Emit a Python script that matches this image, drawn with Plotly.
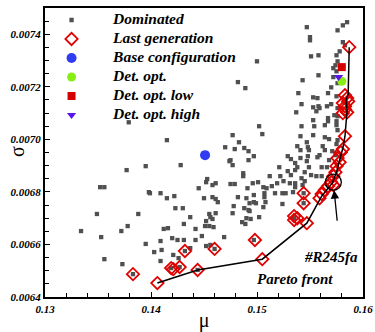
import plotly.graph_objects as go

# ---------------- data ----------------
dom_mu = [
    0.1379, 0.1395, 0.1377, 0.1352, 0.1356, 0.1398, 0.1349, 0.1388, 0.1378, 0.1334,
    0.1372, 0.1353, 0.1395, 0.1356, 0.1373, 0.1383,
    0.1482, 0.1489, 0.1500, 0.1502, 0.1415, 0.1477, 0.1483, 0.1470, 0.1479, 0.1488,
    0.1492, 0.1497, 0.1474, 0.1475, 0.1477, 0.1492, 0.1428, 0.1453, 0.1452, 0.1458,
    0.1461, 0.1475, 0.1479, 0.1487, 0.1487, 0.1496, 0.1501, 0.1491, 0.1445, 0.1399,
    0.1409, 0.1415, 0.1422, 0.1450, 0.1458, 0.1461, 0.1463, 0.1482, 0.1490, 0.1493,
    0.1499, 0.1478, 0.1488, 0.1492, 0.1493, 0.1423, 0.1430, 0.1477, 0.1455, 0.1456,
    0.1458, 0.1437, 0.1502, 0.1490, 0.1494, 0.1452, 0.1486, 0.1489, 0.1431, 0.1451,
    0.1455, 0.1459, 0.1412, 0.1416, 0.1442, 0.1448, 0.1469, 0.1409, 0.1420, 0.1425,
    0.1431, 0.1442, 0.1452, 0.1456, 0.1403, 0.1410, 0.1421, 0.1426, 0.1409, 0.1437,
    0.1461, 0.1432, 0.1460, 0.1497, 0.1419, 0.1427, 0.1444, 0.1544, 0.1544, 0.1535,
    0.1585, 0.1581, 0.1576, 0.1547, 0.1550, 0.1550, 0.1551, 0.1558, 0.1575, 0.1578,
    0.1581, 0.1583, 0.1574, 0.1576, 0.1572, 0.1558, 0.1575, 0.1543, 0.1572, 0.1570,
    0.1576, 0.1539, 0.1567, 0.1553, 0.1557, 0.1575, 0.1542, 0.1558, 0.1553, 0.1559,
    0.1556, 0.1566, 0.1570, 0.1537, 0.1576, 0.1573, 0.1567, 0.1567, 0.1576, 0.1553,
    0.1575, 0.1564, 0.1542, 0.1554, 0.1505, 0.1576, 0.1541, 0.1553, 0.1564, 0.1568,
    0.1576, 0.1575, 0.1547, 0.1538, 0.1548, 0.1549, 0.1562, 0.1564, 0.1541, 0.1529,
    0.1548, 0.1559, 0.1571, 0.1574, 0.1532, 0.1541, 0.1568, 0.1536, 0.1538, 0.1536,
    0.1549, 0.1545, 0.1561, 0.1566, 0.1521, 0.1529, 0.1512, 0.1522, 0.1532, 0.1525,
    0.1531, 0.1542, 0.1545, 0.1551, 0.1561, 0.1519, 0.1536, 0.1543, 0.1507, 0.1507,
    0.1517, 0.1524, 0.1527, 0.1536, 0.1534, 0.1506, 0.1509, 0.1514, 0.1497, 0.1497,
    0.1508, 0.1524, 0.1506, 0.1547, 0.1557, 0.1575, 0.1556,
]
dom_sigma = [
    0.007065, 0.006898, 0.006883, 0.006818, 0.006818, 0.006799, 0.006716, 0.006716, 0.006670, 0.006651,
    0.006651, 0.006628, 0.006602, 0.006544, 0.006525, 0.006487,
    0.007218, 0.007195, 0.007297, 0.007050, 0.006997, 0.007016, 0.006989, 0.006970, 0.006963, 0.006967,
    0.006955, 0.006936, 0.006917, 0.006921, 0.006902, 0.006921, 0.006902, 0.006849, 0.006837, 0.006826,
    0.006833, 0.006830, 0.006830, 0.006871, 0.006860, 0.006833, 0.006837, 0.006814, 0.006814, 0.006795,
    0.006795, 0.006776, 0.006784, 0.006776, 0.006780, 0.006773, 0.006761, 0.006780, 0.006776, 0.006757,
    0.006757, 0.006746, 0.006738, 0.006731, 0.006727, 0.006738, 0.006738, 0.006719, 0.006716, 0.006704,
    0.006697, 0.006704, 0.006704, 0.006700, 0.006697, 0.006689, 0.006685, 0.006678, 0.006678, 0.006670,
    0.006670, 0.006666, 0.006659, 0.006662, 0.006659, 0.006632, 0.006628, 0.006613, 0.006624, 0.006617,
    0.006617, 0.006617, 0.006594, 0.006598, 0.006571, 0.006579, 0.006560, 0.006548, 0.006537, 0.006586,
    0.006719, 0.006575, 0.006583, 0.006617, 0.006510, 0.006514, 0.006503, 0.006795, 0.006757, 0.006700,
    0.007446, 0.007434, 0.007415, 0.007427, 0.007389, 0.007377, 0.007316, 0.007320, 0.007320, 0.007335,
    0.007370, 0.007358, 0.007282, 0.007297, 0.007271, 0.007244, 0.007259, 0.007225, 0.007237, 0.007198,
    0.007214, 0.007176, 0.007176, 0.007160, 0.007157, 0.007164, 0.007134, 0.007126, 0.007122, 0.007119,
    0.007107, 0.007126, 0.007134, 0.007103, 0.007119, 0.007092, 0.007081, 0.007069, 0.007088, 0.007073,
    0.007054, 0.007054, 0.007050, 0.007050, 0.007020, 0.007035, 0.007012, 0.007016, 0.007008, 0.007001,
    0.006997, 0.006982, 0.006989, 0.006974, 0.006970, 0.006959, 0.006974, 0.006959, 0.006959, 0.006936,
    0.006936, 0.006940, 0.006955, 0.006940, 0.006925, 0.006929, 0.006921, 0.006910, 0.006894, 0.006883,
    0.006894, 0.006875, 0.006894, 0.006894, 0.006894, 0.006879, 0.006860, 0.006860, 0.006864, 0.006841,
    0.006833, 0.006852, 0.006841, 0.006864, 0.006860, 0.006833, 0.006833, 0.006826, 0.006795, 0.006780,
    0.006795, 0.006795, 0.006795, 0.006818, 0.006799, 0.006818, 0.006814, 0.006822, 0.006788, 0.006761,
    0.006761, 0.006754, 0.006742, 0.006917, 0.006932, 0.007069, 0.006860,
]

last_mu = [
    0.1587, 0.1583, 0.1585, 0.1586, 0.1581, 0.1583, 0.1583, 0.1585, 0.1581, 0.1583,
    0.1581, 0.1579, 0.1576, 0.1578, 0.1575, 0.1574, 0.1572, 0.1570, 0.1572, 0.1567,
    0.1564, 0.1561, 0.1559, 0.1544, 0.1544, 0.1535, 0.1538, 0.1535, 0.1547, 0.1498,
    0.1505, 0.1460, 0.1432, 0.1444, 0.1419, 0.1421, 0.1427, 0.1406, 0.1383,
]
last_sigma = [
    0.007351, 0.007168, 0.007157, 0.007145, 0.007138, 0.007126, 0.007115, 0.007103, 0.007100, 0.007012,
    0.006963, 0.006951, 0.006929, 0.006913, 0.006898, 0.006875, 0.006860, 0.006837, 0.006826, 0.006822,
    0.006807, 0.006792, 0.006776, 0.006795, 0.006757, 0.006708, 0.006700, 0.006693, 0.006681, 0.006617,
    0.006544, 0.006583, 0.006575, 0.006503, 0.006510, 0.006506, 0.006514, 0.006453, 0.006487,
]

pareto_mu = [0.1406, 0.1444, 0.1505, 0.1547, 0.1561, 0.1571, 0.1575, 0.1578, 0.1581,
             0.1583, 0.1585, 0.1584, 0.1586, 0.1587]
pareto_sigma = [0.006453, 0.006503, 0.006544, 0.006681, 0.006784, 0.006833, 0.006875,
                0.006921, 0.006967, 0.007012, 0.007111, 0.007149, 0.007172, 0.007351]

base_mu, base_sigma = [0.1451], [0.006940]
det_mu, det_sigma = [0.1580], [0.007221]
det_low_mu, det_low_sigma = [0.1580], [0.007275]
det_high_mu, det_high_sigma = [0.1577], [0.007237]
r245_mu, r245_sigma = 0.1572, 0.006837

x_ticks = [0.13, 0.14, 0.15, 0.16]
y_ticks = [0.0064, 0.0066, 0.0068, 0.0070, 0.0072, 0.0074]

legend_names = ["Dominated", "Last generation", "Base configuration",
                "Det. opt.", "Det. opt. low", "Det. opt. high"]

# ---------------- figure ----------------
SERIF = "Liberation Serif, Times New Roman, serif"
bi = dict(family=SERIF, weight="bold", style="italic", color="black")


def lname(s):
    return '<span style="font-size:15.5px">' + s + '</span>'


fig = go.Figure()
fig.add_trace(go.Scatter(x=dom_mu, y=dom_sigma, mode="markers", name=lname(legend_names[0]),
                         marker=dict(symbol="square", size=4.3, color="#505050")))
fig.add_trace(go.Scatter(x=last_mu, y=last_sigma, mode="markers", name=lname(legend_names[1]),
                         marker=dict(symbol="diamond-open", size=9.5, color="#e00000",
                                     line=dict(width=1.8, color="#e00000"))))
fig.add_trace(go.Scatter(x=pareto_mu, y=pareto_sigma, mode="lines", showlegend=False,
                         line=dict(color="black", width=1.5)))
fig.add_trace(go.Scatter(x=base_mu, y=base_sigma, mode="markers", name=lname(legend_names[2]),
                         marker=dict(symbol="circle", size=10, color="#2f3cf2")))
fig.add_trace(go.Scatter(x=det_mu, y=det_sigma, mode="markers", name=lname(legend_names[3]),
                         marker=dict(symbol="circle", size=9, color="#88ee11")))
fig.add_trace(go.Scatter(x=det_low_mu, y=det_low_sigma, mode="markers", name=lname(legend_names[4]),
                         marker=dict(symbol="square", size=8, color="#d40000")))
fig.add_trace(go.Scatter(x=det_high_mu, y=det_high_sigma, mode="markers", name=lname(legend_names[5]),
                         marker=dict(symbol="triangle-down", size=8, color="#5a14ee")))

axis_common = dict(showgrid=False, zeroline=False, showline=True, linecolor="black",
                   linewidth=2, mirror=True, ticks="inside", ticklen=5, tickwidth=1,
                   tickcolor="black", tickfont=dict(size=11, **bi), automargin=False)

fig.update_xaxes(range=[0.13, 0.16], tickvals=x_ticks, tickformat=".2f", ticklabelstandoff=1,
                 minor=dict(dtick=0.002, ticks="inside", ticklen=4, tickcolor="black"),
                 title=dict(text="μ", font=dict(family=SERIF, size=20, color="black"), standoff=6),
                 **axis_common)
fig.update_yaxes(range=[0.0064, 0.0075], tickvals=y_ticks, tickformat=".4f",
                 minor=dict(dtick=0.00005, tick0=0.0064, ticks="inside", ticklen=4, tickcolor="black"),
                 **axis_common)

# sigma axis title placed over the tick-label column, as in the original
fig.add_annotation(xref="paper", yref="paper", x=-0.088, y=0.502, xanchor="center",
                   yanchor="middle", text="σ", showarrow=False,
                   textangle=-90, font=dict(family=SERIF, size=20, color="black"))

fig.add_shape(type="circle", xref="x", yref="y", xsizemode="pixel", ysizemode="pixel",
              xanchor=r245_mu, yanchor=r245_sigma, x0=-8, x1=8, y0=-8, y1=8,
              line=dict(color="black", width=1.3))
fig.add_annotation(x=r245_mu, y=r245_sigma, text="", showarrow=True, ax=4, ay=40,
                   standoff=8, arrowhead=2, arrowsize=1.3, arrowwidth=1.3, arrowcolor="black")
fig.add_annotation(x=r245_mu, y=r245_sigma, text="#R245fa", showarrow=False,
                   xshift=-2, yshift=-75, font=dict(size=15, **bi))
fig.add_annotation(x=r245_mu, y=r245_sigma, text="Pareto front", showarrow=False,
                   xshift=-38, yshift=-97, font=dict(size=15, **bi))

fig.update_layout(
    width=375, height=332, autosize=False,
    margin=dict(l=45, r=12, t=8, b=35, autoexpand=False),
    paper_bgcolor="white", plot_bgcolor="white",
    showlegend=True,
    legend=dict(x=-0.047, y=1.0087, xanchor="left", yanchor="top", bgcolor="rgba(0,0,0,0)",
                font=dict(size=11, **bi), itemwidth=73, tracegroupgap=0),
)

fig.write_html("out.html")
